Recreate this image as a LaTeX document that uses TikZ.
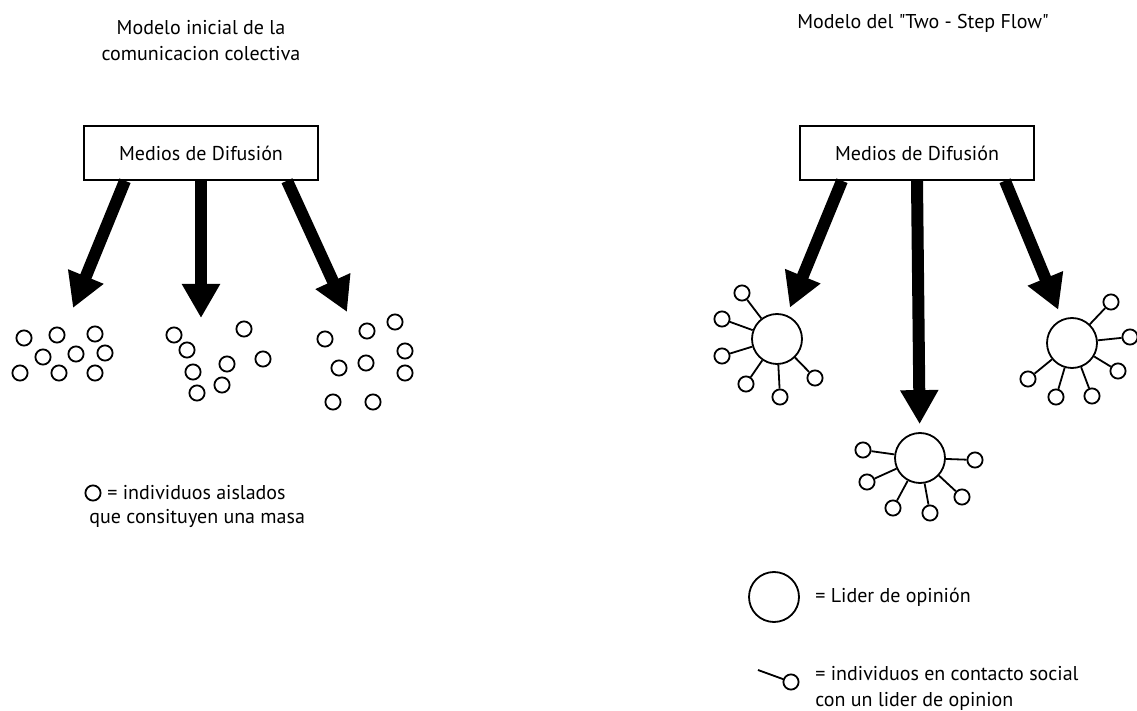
\documentclass[tikz,border=0pt]{standalone}
\usepackage{fontspec}
\setmainfont{PT Sans}
\usetikzlibrary{arrows.meta}
\begin{document}
\begin{tikzpicture}[x=0.5pt, y=-0.5pt]

\tikzstyle{box1}=[rectangle, draw, line width=0.75pt, minimum width=117pt, minimum height=27pt, font=\fontsize{10}{12}\selectfont]
\tikzstyle{txt}=[inner sep=0pt, align=left, font=\fontsize{10}{13}\selectfont]
\tikzstyle{indiv}=[circle, draw, line width=0.9pt, minimum size=7.6pt, inner sep=0pt]
\tikzstyle{leader}=[circle, draw, line width=0.9pt, minimum size=25pt, inner sep=0pt]
\tikzstyle{link}=[line width=0.9pt]
\tikzstyle{bigarrow}=[line width=6pt, -{Triangle[length=17pt, width=18pt]}]

\useasboundingbox (0,0) rectangle (1137,711);

% modelo inicial
\node (titleL) [txt, align=center] at (201,41) {Modelo inicial de la\\comunicacion colectiva};
\node (boxL) [box1] at (201,153) {Medios de Difusión};

\coordinate (tL1) at (73,308);
\coordinate (tL2) at (201,318);
\coordinate (tL3) at (347,312);

\draw [bigarrow] ([xshift=-38pt]boxL.south) -- (tL1);
\draw [bigarrow] (boxL.south) -- (tL2);
\draw [bigarrow] ([xshift=43pt]boxL.south) -- (tL3);

\node (a1) [indiv] at (24,338) {};  \node (a2) [indiv] at (57,335) {};  \node (a3) [indiv] at (95,334) {};
\node (a4) [indiv] at (43,357) {};  \node (a5) [indiv] at (76,354) {};  \node (a6) [indiv] at (105,353) {};
\node (a7) [indiv] at (20,373) {};  \node (a8) [indiv] at (59,373) {};  \node (a9) [indiv] at (95,373) {};

\node (b1) [indiv] at (174,335) {}; \node (b2) [indiv] at (187,350) {}; \node (b3) [indiv] at (244,329) {};
\node (b4) [indiv] at (193,372) {}; \node (b5) [indiv] at (227,364) {}; \node (b6) [indiv] at (263,359) {};
\node (b7) [indiv] at (197,393) {}; \node (b8) [indiv] at (222,385) {};

\node (c1) [indiv] at (325,339) {}; \node (c2) [indiv] at (367,331) {}; \node (c3) [indiv] at (395,322) {};
\node (c4) [indiv] at (405,351) {}; \node (c5) [indiv] at (339,368) {}; \node (c6) [indiv] at (366,363) {};
\node (c7) [indiv] at (405,373) {}; \node (c8) [indiv] at (333,402) {}; \node (c9) [indiv] at (373,402) {};

\node (legA) [indiv] at (93,493) {};
\node (legA1) [txt, anchor=west] at (107,493) {= individuos aislados};
\node (legA2) [txt, anchor=west] at (89,518) {que consituyen una masa};

% two-step flow
\node (titleR) [txt, align=center] at (923,23) {Modelo del \textquotedbl Two - Step Flow\textquotedbl};
\node (boxR) [box1] at (917,153) {Medios de Difusión};

\node (LL) [leader] at (777,339) {};
\node (LR) [leader] at (1072,343) {};
\node (LB) [leader] at (920,458) {};

\draw [bigarrow, shorten >=4pt] ([xshift=-37.5pt]boxR.south) -- (LL);
\draw [bigarrow, shorten >=4pt] (boxR.south) -- (LB);
\draw [bigarrow, shorten >=5pt] ([xshift=44pt]boxR.south) -- (LR);

\node (l1) [indiv] at (742,293) {}; \node (l2) [indiv] at (722,319) {}; \node (l3) [indiv] at (722,356) {};
\node (l4) [indiv] at (746,384) {}; \node (l5) [indiv] at (780,397) {}; \node (l6) [indiv] at (815,378) {};
\draw [link] (LL) -- (l1) (LL) -- (l2) (LL) -- (l3) (LL) -- (l4) (LL) -- (l5) (LL) -- (l6);

\node (r1) [indiv] at (1111,302) {}; \node (r2) [indiv] at (1130,337) {}; \node (r3) [indiv] at (1118,371) {};
\node (r4) [indiv] at (1092,396) {}; \node (r5) [indiv] at (1056,397) {}; \node (r6) [indiv] at (1028,379) {};
\draw [link] (LR) -- (r1) (LR) -- (r2) (LR) -- (r3) (LR) -- (r4) (LR) -- (r5) (LR) -- (r6);

\node (m1) [indiv] at (863,450) {}; \node (m2) [indiv] at (867,482) {}; \node (m3) [indiv] at (893,508) {};
\node (m4) [indiv] at (930,513) {}; \node (m5) [indiv] at (962,497) {}; \node (m6) [indiv] at (975,460) {};
\draw [link] (LB) -- (m1) (LB) -- (m2) (LB) -- (m3) (LB) -- (m4) (LB) -- (m5) (LB) -- (m6);

\node (legL) [leader] at (774,597) {};
\node (legL1) [txt, anchor=west] at (815,597) {= Lider de opinión};

\coordinate (legS0) at (758,670);
\node (legS) [indiv] at (791,682) {};
\draw [link] (legS0) -- (legS);
\node (legS1) [txt, anchor=north west] at (815,666) {= individuos en contacto social\\con un lider de opinion};

\end{tikzpicture}
\end{document}
